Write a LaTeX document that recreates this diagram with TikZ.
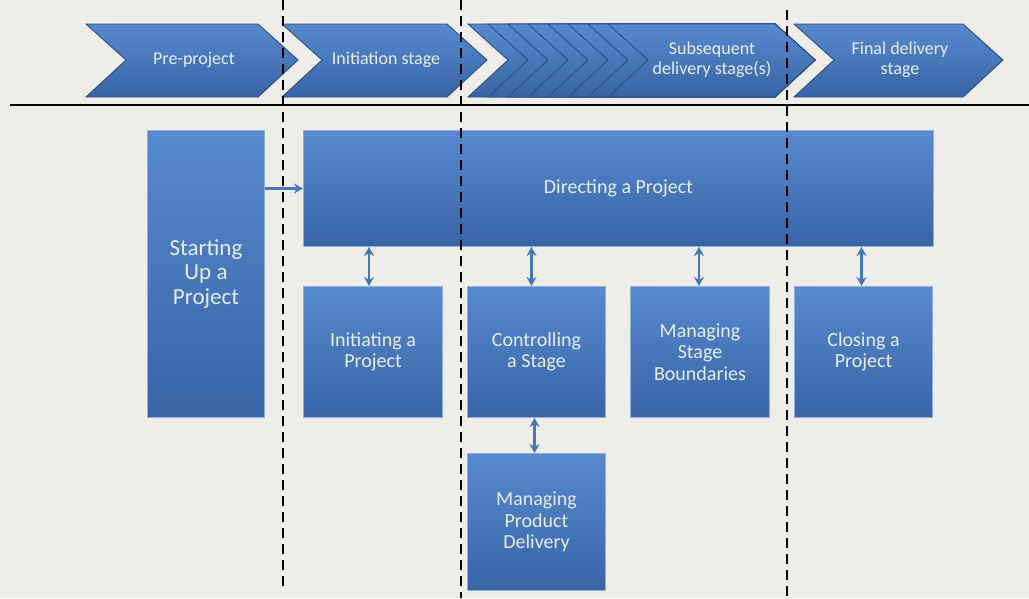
\documentclass[tikz,border=0pt]{standalone}
\usepackage{fontspec}
\setmainfont{Carlito}
\usetikzlibrary{arrows.meta}
\definecolor{bg}{RGB}{239,237,234}
\definecolor{boxtop}{RGB}{88,138,206}
\definecolor{boxbot}{RGB}{56,100,166}
\definecolor{boxedge}{RGB}{140,178,226}
\definecolor{chevedge}{RGB}{42,80,134}
\definecolor{txt}{RGB}{228,238,250}
\definecolor{arr}{RGB}{70,120,182}
\begin{document}
\begin{tikzpicture}[x=1pt,y=-1pt,
  pbox/.style={draw=boxedge, line width=1pt, top color=boxtop, bottom color=boxbot,
    text=txt, align=center, inner sep=0pt, anchor=north west},
  chev/.style={draw=chevedge, line width=0.9pt, top color=boxtop, bottom color=boxbot},
  chevtext/.style={text=txt, align=center, font=\fontsize{18}{20}\selectfont},
  boxtext/.style={font=\fontsize{20}{21.5}\selectfont},
  link/.style={draw=arr, line width=2.4pt},
  oneway/.style={link, -{Stealth[length=9pt,width=10pt]}},
  twoway/.style={link, {Stealth[length=9pt,width=10pt]}-{Stealth[length=9pt,width=10pt]}},
  divider/.style={black, line width=2.2pt, dash pattern=on 10pt off 6pt}
]
\path[use as bounding box, fill=bg] (0,0) rectangle (1029,598);

% chevrons
\path[chev] (86,24) -- (258,24) -- (298,60) -- (258,97) -- (86,97) -- (126,60) -- cycle;
\path[chev] (282,24) -- (447,24) -- (487,60) -- (447,97) -- (282,97) -- (322,60) -- cycle;
\foreach \k in {0,...,7}{
  \path[chev] ({468+20*\k},24) -- (775,24) -- (815,60) -- (775,97) -- ({468+20*\k},97) -- ({508+20*\k},60) -- cycle;
}
\path[chev] (794,24) -- (963,24) -- (1003,60) -- (963,97) -- (794,97) -- (834,60) -- cycle;

\node[chevtext] (c1) at (194,60) {Pre-project};
\node[chevtext] (c2) at (386,60) {Initiation stage};
\node[chevtext] (c3) at (712,60) {Subsequent\\delivery stage(s)};
\node[chevtext] (c4) at (900,60) {Final delivery\\stage};

\draw[black, line width=2pt] (10,105) -- (1029,105);

% process boxes
\node[pbox, minimum width=117pt, minimum height=287pt, font=\fontsize{23}{24.5}\selectfont] (su) at (147,130) {Starting\\Up a\\Project};
\node[pbox, minimum width=630pt, minimum height=116pt, boxtext] (dp) at (303,130) {Directing a Project};
\node[pbox, minimum width=139pt, minimum height=131pt, boxtext] (ip) at (303,286) {Initiating a\\Project};
\node[pbox, minimum width=138pt, minimum height=131pt, boxtext] (cs) at (467,286) {Controlling\\a Stage};
\node[pbox, minimum width=139pt, minimum height=131pt, boxtext] (sb) at (630,286) {Managing\\Stage\\Boundaries};
\node[pbox, minimum width=138pt, minimum height=131pt, boxtext] (cp) at (794,286) {Closing a\\Project};
\node[pbox, minimum width=138pt, minimum height=137pt, boxtext] (pd) at (467,453) {Managing\\Product\\Delivery};

% connectors
\draw[oneway] (su.east |- dp.west) -- (dp.west);
\draw[twoway] ([xshift=-4pt]ip.north) -- ([xshift=-4pt]ip.north |- dp.south);
\draw[twoway] ([xshift=-5pt]cs.north) -- ([xshift=-5pt]cs.north |- dp.south);
\draw[twoway] ([xshift=-1pt]sb.north) -- ([xshift=-1pt]sb.north |- dp.south);
\draw[twoway] ([xshift=-2pt]cp.north) -- ([xshift=-2pt]cp.north |- dp.south);
\draw[twoway] ([xshift=-2pt]pd.north) -- ([xshift=-2pt]pd.north |- cs.south);

% stage dividers
\coordinate (d1t) at (283,0);   \coordinate (d1b) at (283,590);
\coordinate (d2t) at (461,0);   \coordinate (d2b) at (461,598);
\coordinate (d3t) at (787,10);  \coordinate (d3b) at (787,598);
\draw[divider] (d1t) -- (d1b);
\draw[divider] (d2t) -- (d2b);
\draw[divider] (d3t) -- (d3b);
\end{tikzpicture}
\end{document}
